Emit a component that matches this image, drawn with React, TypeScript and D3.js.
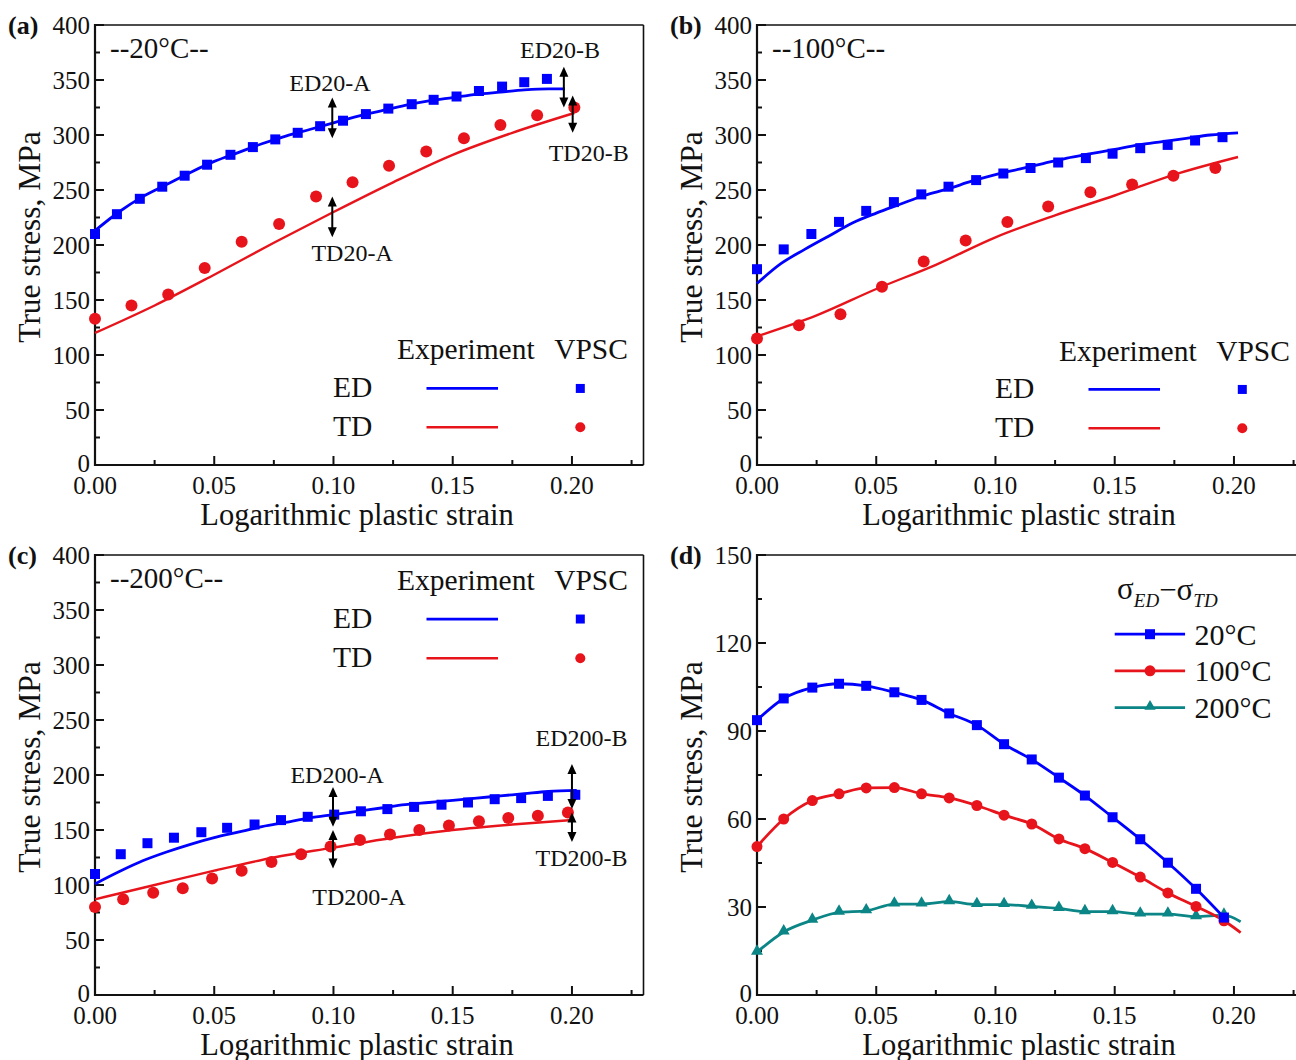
import React from 'react';
import * as d3 from 'd3';

const FONT = '"Liberation Serif", "Times New Roman", Times, serif';
const BLUE = '#0000ff';
const RED = '#e8141c';
const TEAL = '#0b8585';

// ---------- axis ticks ----------
const X_TICKS = [0, 0.05, 0.1, 0.15, 0.2];
const X_MINOR = [0.025, 0.075, 0.125, 0.175, 0.225];
const STRESS_TICKS = [0, 50, 100, 150, 200, 250, 300, 350, 400];
const STRESS_MINOR = [25, 75, 125, 175, 225, 275, 325, 375];
const DIFF_TICKS = [0, 30, 60, 90, 120, 150];
const DIFF_MINOR = [15, 45, 75, 105, 135];

// ---------- (a) 20°C ----------
const A_ED_EXP_X = [0, 0.01, 0.02, 0.03, 0.04, 0.05, 0.06, 0.07, 0.08, 0.09, 0.10, 0.11, 0.12, 0.13, 0.14, 0.15, 0.16, 0.17, 0.18, 0.19, 0.197];
const A_ED_EXP_Y = [213, 230, 244, 255, 266, 276, 284, 292, 299, 305, 311, 317, 322, 327, 331, 334, 337, 339, 341, 342, 342];
const A_TD_EXP_X = [0, 0.025, 0.05, 0.075, 0.10, 0.125, 0.15, 0.175, 0.201];
const A_TD_EXP_Y = [120, 145, 173, 202, 230, 257, 282, 302, 320];
const A_ED_SIM_X = [0, 0.0092, 0.0188, 0.0282, 0.0376, 0.047, 0.0568, 0.0662, 0.0756, 0.085, 0.0944, 0.104, 0.1136, 0.123, 0.1328, 0.142, 0.1516, 0.161, 0.1707, 0.18, 0.1895];
const A_ED_SIM_Y = [210, 228, 242, 253, 263, 273, 282, 289, 296, 302, 308, 313, 319, 324, 328, 332, 335, 340, 344, 348, 351];
const A_TD_SIM_X = [0, 0.0153, 0.0307, 0.046, 0.0615, 0.0772, 0.0927, 0.108, 0.1233, 0.1389, 0.1547, 0.17, 0.1854, 0.201];
const A_TD_SIM_Y = [133, 145, 155, 179, 203, 219, 244, 257, 272, 285, 297, 309, 318, 325];

// ---------- (b) 100°C ----------
const B_ED_EXP_X = [0, 0.01, 0.02, 0.03, 0.04, 0.05, 0.06, 0.07, 0.08, 0.09, 0.10, 0.11, 0.12, 0.13, 0.14, 0.15, 0.16, 0.17, 0.18, 0.19, 0.2017];
const B_ED_EXP_Y = [165, 183, 196, 208, 220, 229, 237, 245, 251, 258, 264, 269, 274, 279, 283, 287, 291, 294, 297, 300, 302];
const B_TD_EXP_X = [0, 0.025, 0.05, 0.075, 0.10, 0.125, 0.15, 0.175, 0.2017];
const B_TD_EXP_Y = [117, 136, 160, 182, 207, 227, 245, 264, 280];
const B_ED_SIM_X = [0, 0.0112, 0.0228, 0.0344, 0.0458, 0.0574, 0.0689, 0.0803, 0.0919, 0.1033, 0.1147, 0.1263, 0.1379, 0.1491, 0.1607, 0.1722, 0.1837, 0.1952];
const B_ED_SIM_Y = [178, 196, 210, 221, 231, 239, 246, 253, 259, 265, 270, 275, 279, 283, 288, 291, 295, 298];
const B_TD_SIM_X = [0, 0.0176, 0.035, 0.0524, 0.0699, 0.0875, 0.105, 0.1221, 0.1398, 0.1573, 0.1746, 0.1922];
const B_TD_SIM_Y = [115, 127, 137, 162, 185, 204, 221, 235, 248, 255, 263, 270];

// ---------- (c) 200°C ----------
const C_ED_EXP_X = [0, 0.01, 0.02, 0.03, 0.04, 0.05, 0.06, 0.07, 0.08, 0.09, 0.10, 0.11, 0.12, 0.13, 0.14, 0.15, 0.16, 0.17, 0.18, 0.19, 0.202];
const C_ED_EXP_Y = [101, 112, 122, 130, 137, 143, 148, 153, 157, 161, 164, 167, 170, 173, 175, 177, 179, 181, 183, 185, 186];
const C_TD_EXP_X = [0, 0.025, 0.05, 0.075, 0.10, 0.125, 0.15, 0.175, 0.2];
const C_TD_EXP_Y = [87, 100, 113, 125, 134, 143, 150, 155, 159];
const C_ED_SIM_X = [0, 0.0108, 0.022, 0.0331, 0.0446, 0.0554, 0.0669, 0.078, 0.0892, 0.1003, 0.1115, 0.1226, 0.1338, 0.1453, 0.1564, 0.1676, 0.1787, 0.1899, 0.2014];
const C_ED_SIM_Y = [110, 128, 138, 143, 148, 152, 155, 159, 162, 164, 167, 169, 171, 173, 175, 178, 179, 181, 182];
const C_TD_SIM_X = [0, 0.0118, 0.0244, 0.0368, 0.0491, 0.0615, 0.074, 0.0864, 0.0988, 0.1111, 0.1237, 0.136, 0.1484, 0.161, 0.1733, 0.1857, 0.1983];
const C_TD_SIM_Y = [80, 87, 93, 97, 106, 113, 121, 128, 135, 141, 146, 150, 154, 158, 161, 163, 166];

// ---------- (d) difference ----------
const D_X = [0, 0.0112, 0.0232, 0.0344, 0.0458, 0.0576, 0.069, 0.0806, 0.0922, 0.1036, 0.1152, 0.1266, 0.1375, 0.1491, 0.1607, 0.1723, 0.1841, 0.1958];
const D_20 = [93.7, 101.1, 104.8, 106.1, 105.4, 103.2, 100.6, 96, 92, 85.5, 80.3, 74.1, 68, 60.6, 53.1, 45.1, 36.2, 26.4];
const D_100 = [50.6, 60, 66.3, 68.6, 70.6, 70.7, 68.6, 67.2, 64.6, 61.3, 58.3, 53.2, 49.9, 45.2, 40.2, 34.8, 30.2, 25.3];
const D_200 = [14.6, 21.5, 25.5, 28.2, 28.7, 31, 31, 31.8, 30.8, 30.8, 30.2, 29.5, 28.4, 28.4, 27.6, 27.6, 26.7, 27.2];
const D_END_X = 0.2028;
const D_100_END = 21.3;
const D_200_END = 25;

const TEMP_LABELS = ['--20°C--', '--100°C--', '--200°C--'];
const D_LEGEND = ['20°C', '100°C', '200°C'];

const ANNOT_A = [
  { text: 'ED20-A', ax: 0.0995, y0: 297, y1: 334, tx: 0.0985, ty: 347 },
  { text: 'TD20-A', ax: 0.0995, y0: 207, y1: 244, tx: 0.1078, ty: 193 },
  { text: 'ED20-B', ax: 0.1966, y0: 325, y1: 362, tx: 0.195, ty: 377 },
  { text: 'TD20-B', ax: 0.2003, y0: 302, y1: 336, tx: 0.207, ty: 284 },
];
const ANNOT_C = [
  { text: 'ED200-A', ax: 0.0998, y0: 153, y1: 189, tx: 0.1015, ty: 200 },
  { text: 'TD200-A', ax: 0.0998, y0: 115, y1: 150, tx: 0.1107, ty: 89 },
  { text: 'ED200-B', ax: 0.2, y0: 169, y1: 210, tx: 0.204, ty: 234 },
  { text: 'TD200-B', ax: 0.2, y0: 139, y1: 166, tx: 0.204, ty: 125 },
];

const W = 548.5;
const H = 440;
const X_MAX = 0.23;

const zip = (xs: number[], ys: number[]) => xs.map((x, i) => [x, ys[i]] as [number, number]);

function makeScales(left: number, top: number, yMax: number) {
  const x = d3.scaleLinear().domain([0, X_MAX]).range([left, left + W]);
  const y = d3.scaleLinear().domain([0, yMax]).range([top + H, top]);
  return { x, y };
}

function Axes({ left, top, x, y, yTicks, yMinor, label }: any) {
  const bottom = top + H;
  return (
    <g fontFamily={FONT} fill="#111">
      <line x1={left} y1={top} x2={left + W} y2={top} stroke="#111" strokeWidth={1.6} />
      <line x1={left + W} y1={top} x2={left + W} y2={bottom} stroke="#111" strokeWidth={1.6} />
      <line x1={left} y1={top - 1} x2={left} y2={bottom + 1} stroke="#111" strokeWidth={2.2} />
      <line x1={left - 1} y1={bottom} x2={left + W} y2={bottom} stroke="#111" strokeWidth={2.2} />
      {X_TICKS.map((t) => (
        <g key={'xt' + t}>
          <line x1={x(t)} x2={x(t)} y1={bottom} y2={bottom - 9} stroke="#111" strokeWidth={2} />
          <text x={x(t)} y={bottom + 20} fontSize={25} textAnchor="middle" dominantBaseline="central">{d3.format('.2f')(t)}</text>
        </g>
      ))}
      {X_MINOR.map((t) => (
        <line key={'xm' + t} x1={x(t)} x2={x(t)} y1={bottom} y2={bottom - 5} stroke="#111" strokeWidth={2} />
      ))}
      {yTicks.map((t: number) => (
        <g key={'yt' + t}>
          <line x1={left} x2={left + 9} y1={y(t)} y2={y(t)} stroke="#111" strokeWidth={2} />
          <text x={left - 5} y={y(t) - (t === 0 ? 2 : 0)} fontSize={25} textAnchor="end" dominantBaseline="central">{t}</text>
        </g>
      ))}
      {yMinor.map((t: number) => (
        <line key={'ym' + t} x1={left} x2={left + 5} y1={y(t)} y2={y(t)} stroke="#111" strokeWidth={2} />
      ))}
      <text x={left + 262} y={bottom + 60} fontSize={30.5} textAnchor="middle">Logarithmic plastic strain</text>
      <text transform={`translate(${left - 55},${top + 212}) rotate(-90)`} fontSize={31.5} textAnchor="middle">True stress, MPa</text>
      <text x={left - 87} y={top} fontSize={26} fontWeight="bold" dominantBaseline="central">{label}</text>
    </g>
  );
}

function Arrow({ x, y0, y1 }: { x: number; y0: number; y1: number }) {
  const top = Math.min(y0, y1);
  const bot = Math.max(y0, y1);
  const hl = 10;
  const hw = 4.5;
  return (
    <g>
      <line x1={x} x2={x} y1={top + hl - 1} y2={bot - hl + 1} stroke="#000" strokeWidth={2} />
      <path d={`M${x},${top} L${x - hw},${top + hl} L${x + hw},${top + hl} Z`} fill="#000" />
      <path d={`M${x},${bot} L${x - hw},${bot - hl} L${x + hw},${bot - hl} Z`} fill="#000" />
    </g>
  );
}

function StressPanel({ left, top, label, temp, edExp, tdExp, edSim, tdSim, annots, leg }: any) {
  const { x, y } = makeScales(left, top, 400);
  const line = d3.line<[number, number]>().x((d) => x(d[0])).y((d) => y(d[1])).curve(d3.curveMonotoneX);
  return (
    <g>
      <Axes left={left} top={top} x={x} y={y} yTicks={STRESS_TICKS} yMinor={STRESS_MINOR} label={label} />
      <path d={line(edExp) || ''} fill="none" stroke={BLUE} strokeWidth={2.8} />
      <path d={line(tdExp) || ''} fill="none" stroke={RED} strokeWidth={2.4} />
      {edSim.map((d: [number, number], i: number) => (
        <rect key={'es' + i} x={x(d[0]) - 5} y={y(d[1]) - 5} width={10} height={10} fill={BLUE} />
      ))}
      {tdSim.map((d: [number, number], i: number) => (
        <circle key={'ts' + i} cx={x(d[0])} cy={y(d[1])} r={6} fill={RED} />
      ))}
      {annots.map((a: any) => (
        <g key={a.text}>
          <Arrow x={x(a.ax)} y0={y(a.y0)} y1={y(a.y1)} />
          <text x={x(a.tx)} y={y(a.ty)} fontFamily={FONT} fontSize={24} textAnchor="middle" dominantBaseline="central" fill="#111">{a.text}</text>
        </g>
      ))}
      <text x={left + 15} y={top + 23} fontFamily={FONT} fontSize={29} dominantBaseline="central" fill="#111">{temp}</text>
      <g fontFamily={FONT} fontSize={29.5} fill="#111">
        <text x={x(0.1555)} y={y(leg[0])} textAnchor="middle" dominantBaseline="central">Experiment</text>
        <text x={x(0.208)} y={y(leg[0])} textAnchor="middle" dominantBaseline="central">VPSC</text>
        <text x={x(0.108)} y={y(leg[1])} textAnchor="middle" dominantBaseline="central">ED</text>
        <text x={x(0.108)} y={y(leg[2])} textAnchor="middle" dominantBaseline="central">TD</text>
      </g>
      <line x1={x(0.139)} x2={x(0.169)} y1={y(leg[1]) + 1} y2={y(leg[1]) + 1} stroke={BLUE} strokeWidth={2.8} />
      <line x1={x(0.139)} x2={x(0.169)} y1={y(leg[2]) + 1} y2={y(leg[2]) + 1} stroke={RED} strokeWidth={2.6} />
      <rect x={x(0.2035) - 4.5} y={y(leg[1]) + 1 - 4.5} width={9} height={9} fill={BLUE} />
      <circle cx={x(0.2035)} cy={y(leg[2]) + 1} r={5} fill={RED} />
    </g>
  );
}

function DiffPanel({ left, top }: any) {
  const { x, y } = makeScales(left, top, 150);
  const line = d3.line<[number, number]>().x((d) => x(d[0])).y((d) => y(d[1])).curve(d3.curveMonotoneX);
  const s20 = zip(D_X, D_20);
  const s100 = zip(D_X, D_100);
  const s200 = zip(D_X, D_200);
  const tri = d3.symbol().type(d3.symbolTriangle).size(62)() || '';
  const triSmall = d3.symbol().type(d3.symbolTriangle).size(55)() || '';
  const legY = [123, 110.5, 98];
  const lx0 = x(0.150);
  const lx1 = x(0.1795);
  const lm = x(0.1648);
  return (
    <g>
      <Axes left={left} top={top} x={x} y={y} yTicks={DIFF_TICKS} yMinor={DIFF_MINOR} label="(d)" />
      <path d={line([...s200, [D_END_X, D_200_END]]) || ''} fill="none" stroke={TEAL} strokeWidth={2.8} />
      <path d={line([...s100, [D_END_X, D_100_END]]) || ''} fill="none" stroke={RED} strokeWidth={2.8} />
      <path d={line(s20) || ''} fill="none" stroke={BLUE} strokeWidth={2.8} />
      {s200.map((d, i) => (
        <path key={'t' + i} d={tri} transform={`translate(${x(d[0])},${y(d[1]) - 1})`} fill={TEAL} />
      ))}
      {s100.map((d, i) => (
        <circle key={'c' + i} cx={x(d[0])} cy={y(d[1])} r={5.5} fill={RED} />
      ))}
      {s20.map((d, i) => (
        <rect key={'s' + i} x={x(d[0]) - 5} y={y(d[1]) - 5} width={10} height={10} fill={BLUE} />
      ))}
      <text x={x(0.151)} y={y(138.5)} fontFamily={FONT} fontSize={31} fill="#111" dominantBaseline="central">
        σ<tspan fontSize={19} fontStyle="italic" dy={11}>ED</tspan>
        <tspan dy={-11}>−σ</tspan>
        <tspan fontSize={19} fontStyle="italic" dy={11}>TD</tspan>
      </text>
      {[BLUE, RED, TEAL].map((c, i) => (
        <g key={'lg' + i}>
          <line x1={lx0} x2={lx1} y1={y(legY[i])} y2={y(legY[i])} stroke={c} strokeWidth={2.8} />
          {i === 0 && <rect x={lm - 5} y={y(legY[i]) - 5} width={10} height={10} fill={c} />}
          {i === 1 && <circle cx={lm} cy={y(legY[i])} r={5.5} fill={c} />}
          {i === 2 && <path d={triSmall} transform={`translate(${lm},${y(legY[i]) - 1})`} fill={c} />}
          <text x={x(0.1835)} y={y(legY[i])} fontFamily={FONT} fontSize={30} fill="#111" dominantBaseline="central">{D_LEGEND[i]}</text>
        </g>
      ))}
    </g>
  );
}

export default function App() {
  return (
    <svg width={1296} height={1060} style={{ position: 'absolute', left: 0, top: 0, background: '#fff' }}>
      <rect x={0} y={0} width={1296} height={1060} fill="#fff" />
      <StressPanel
        left={95} top={25} label="(a)" temp={TEMP_LABELS[0]}
        edExp={zip(A_ED_EXP_X, A_ED_EXP_Y)} tdExp={zip(A_TD_EXP_X, A_TD_EXP_Y)}
        edSim={zip(A_ED_SIM_X, A_ED_SIM_Y)} tdSim={zip(A_TD_SIM_X, A_TD_SIM_Y)}
        annots={ANNOT_A} leg={[105.5, 70.5, 35.2]}
      />
      <StressPanel
        left={757} top={25} label="(b)" temp={TEMP_LABELS[1]}
        edExp={zip(B_ED_EXP_X, B_ED_EXP_Y)} tdExp={zip(B_TD_EXP_X, B_TD_EXP_Y)}
        edSim={zip(B_ED_SIM_X, B_ED_SIM_Y)} tdSim={zip(B_TD_SIM_X, B_TD_SIM_Y)}
        annots={[]} leg={[104, 69.6, 34.3]}
      />
      <StressPanel
        left={95} top={555} label="(c)" temp={TEMP_LABELS[2]}
        edExp={zip(C_ED_EXP_X, C_ED_EXP_Y)} tdExp={zip(C_TD_EXP_X, C_TD_EXP_Y)}
        edSim={zip(C_ED_SIM_X, C_ED_SIM_Y)} tdSim={zip(C_TD_SIM_X, C_TD_SIM_Y)}
        annots={ANNOT_C} leg={[377.6, 342.7, 307]}
      />
      <DiffPanel left={757} top={555} />
    </svg>
  );
}
